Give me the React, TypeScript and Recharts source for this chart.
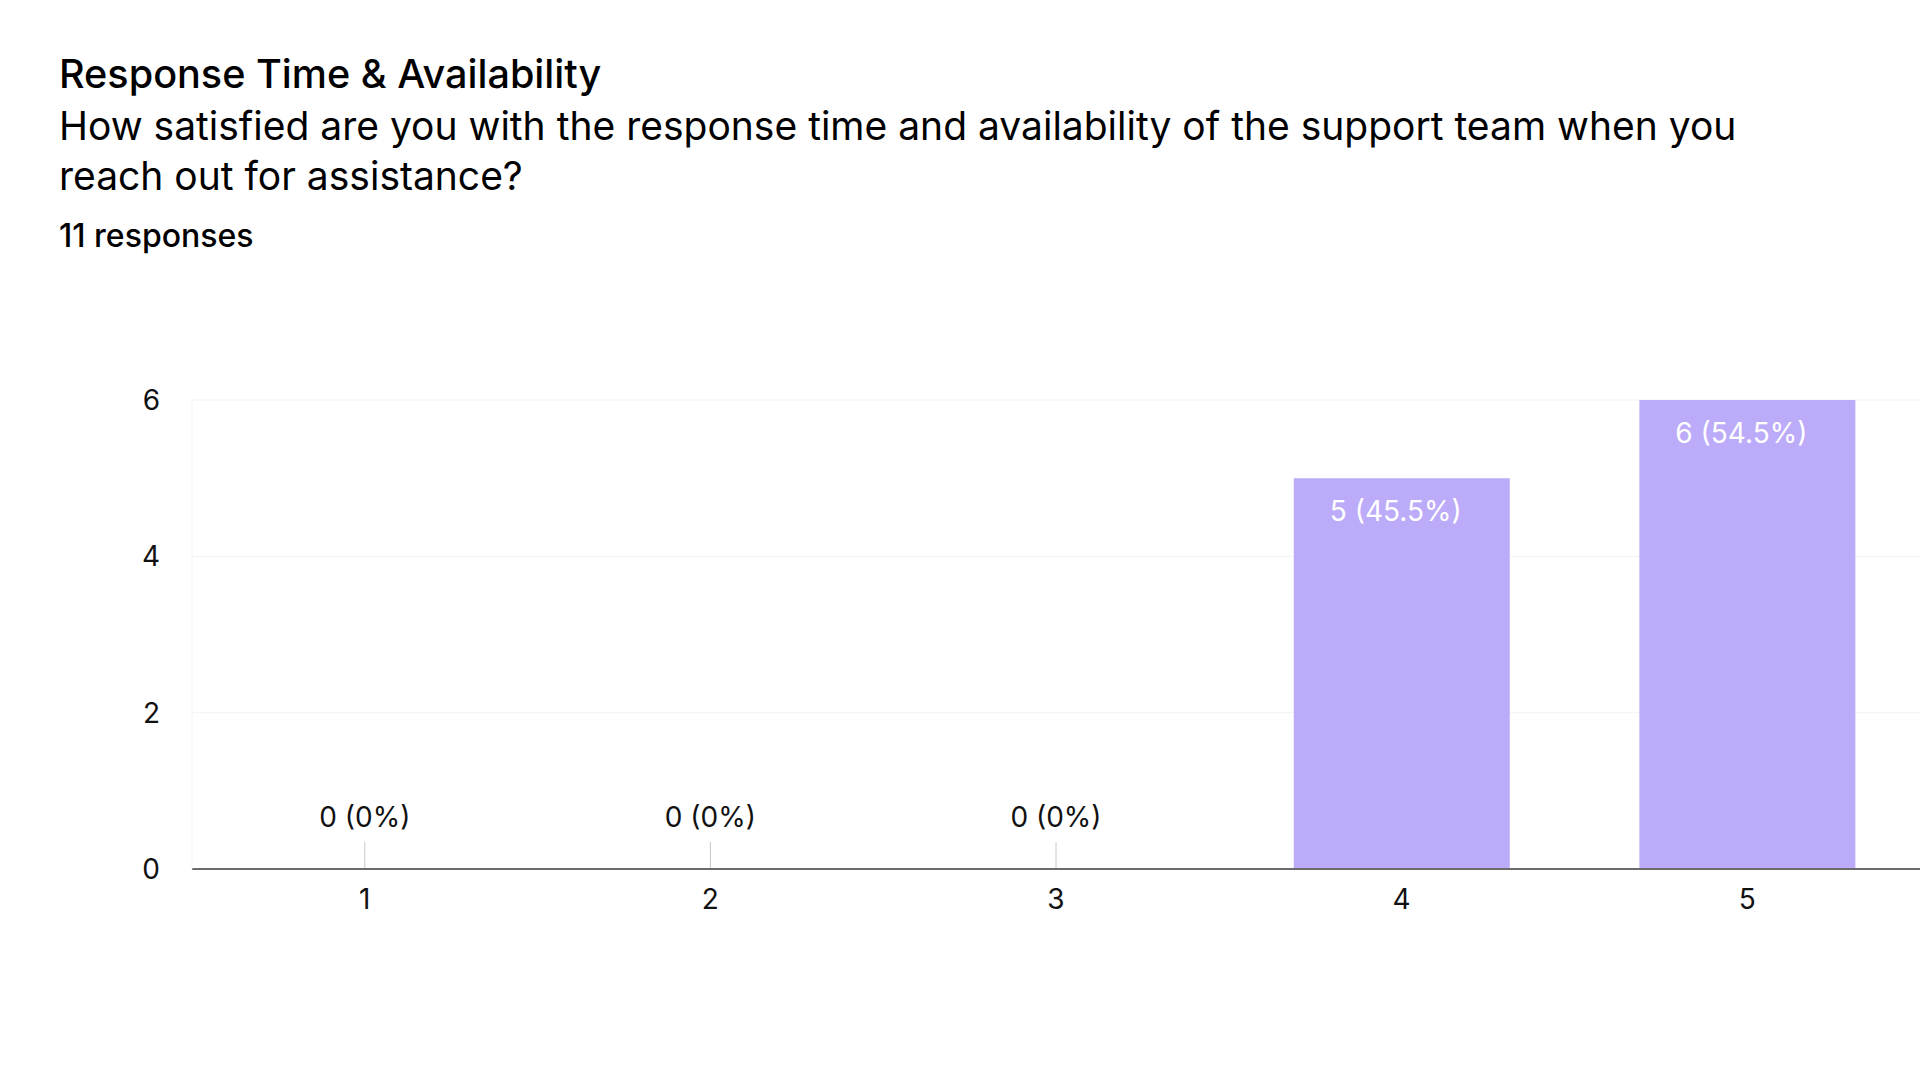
import React from 'react';
import { Bar, BarChart, CartesianGrid, LabelList, XAxis, YAxis } from 'recharts';

// survey: 1-5 rating, count of responses and share of the 11 total
const ratings = ['1', '2', '3', '4', '5'];
const counts = [0, 0, 0, 5, 6];
const shares = ['0%', '0%', '0%', '45.5%', '54.5%'];
const yTicks = [0, 2, 4, 6];

const data = ratings.map((r, i) => ({
  rating: r,
  count: counts[i],
  label: `${counts[i]} (${shares[i]})`,
}));

const FONT = 'Inter, "Noto Sans", sans-serif';
const BAR = '#bcabf9';
const TICK_MARGIN = 20;

// labels inside the top of the non-empty bars
function BarLabel(props: any) {
  const { x, y, width, height, value } = props;
  if (!height) return null;
  return (
    <text x={x + width / 2 - 6} y={y + 33} dy="0.35em" textAnchor="middle" fontSize={28} fill="#fff" fontFamily={FONT}>
      {value}
    </text>
  );
}

// category tick; empty categories also get a stub and their label above the axis
function RatingTick(props: any) {
  const { x, y, payload } = props;
  const row = data.find((d) => d.rating === payload.value);
  const axisY = y - TICK_MARGIN;
  return (
    <g>
      <text x={x} y={y} dy="0.71em" textAnchor="middle" fontSize={28} fill="#111" fontFamily={FONT}>
        {payload.value}
      </text>
      {row && row.count === 0 && (
        <g>
          <line x1={x} x2={x} y1={axisY - 27} y2={axisY - 1} stroke="#c8c8c8" strokeWidth={1} />
          <text x={x} y={axisY - 52} dy="0.35em" textAnchor="middle" fontSize={28} fill="#111" fontFamily={FONT}>
            {row.label}
          </text>
        </g>
      )}
    </g>
  );
}

export default function App() {
  return (
    <div style={{ position: 'absolute', left: 0, top: 0, width: 1920, height: 1080, background: '#fff', fontFamily: FONT, color: '#000', overflow: 'hidden' }}>
      <div style={{ position: 'absolute', left: 59, top: 49, fontSize: 39.6, lineHeight: '50px', fontWeight: 500, whiteSpace: 'nowrap' }}>
        Response Time &amp; Availability
      </div>
      <div style={{ position: 'absolute', left: 59, top: 101, width: 1760, fontSize: 39, lineHeight: '50px', fontWeight: 400 }}>
        How satisfied are you with the response time and availability of the support team when you reach out for assistance?
      </div>
      <div style={{ position: 'absolute', left: 59, top: 218, fontSize: 32, lineHeight: '36px', fontWeight: 500 }}>
        11 responses
      </div>

      <div style={{ position: 'absolute', left: 0, top: 0 }}>
        <BarChart width={1920} height={1080} data={data} margin={{ top: 400, right: 0, bottom: 0, left: 0 }} barCategoryGap="18.8%">
          <CartesianGrid vertical={false} stroke="#f3f3f3" />
          <XAxis
            dataKey="rating"
            height={211}
            tickSize={0}
            tickMargin={TICK_MARGIN}
            axisLine={{ stroke: '#6b6b6b', strokeWidth: 2 }}
            tick={<RatingTick />}
          />
          <YAxis
            width={192}
            domain={[0, 6]}
            ticks={yTicks}
            tickSize={0}
            tickMargin={32}
            axisLine={{ stroke: '#f3f3f3' }}
            tick={{ fontSize: 28, fill: '#111', fontFamily: FONT }}
          />
          <Bar dataKey="count" fill={BAR} isAnimationActive={false}>
            <LabelList dataKey="label" content={BarLabel} />
          </Bar>
        </BarChart>
      </div>
    </div>
  );
}
